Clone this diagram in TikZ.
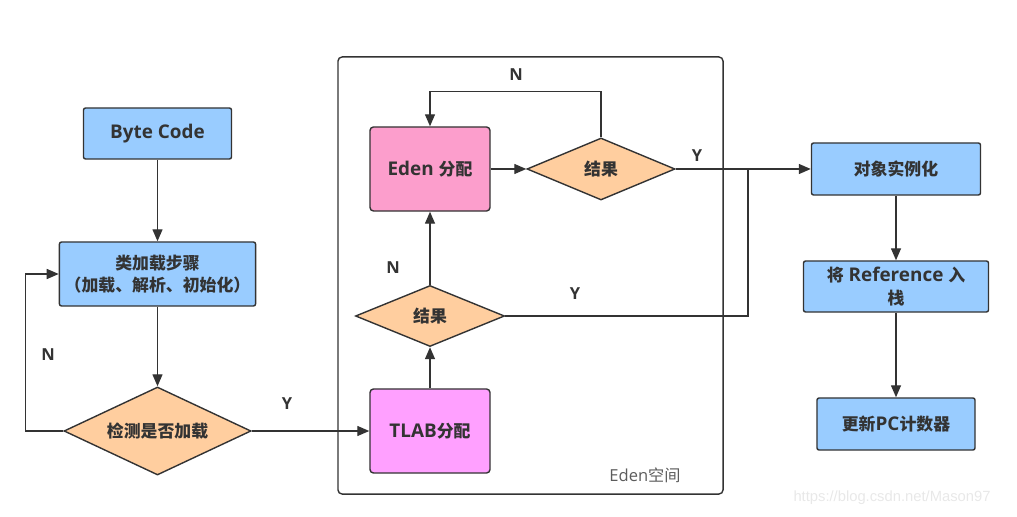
\documentclass[tikz,border=0pt]{standalone}
\usepackage{fontspec}
\setmainfont{Open Sans}[Scale=1.12]
\newfontfamily\cjk{Noto Sans CJK SC}
\newfontfamily\webfont{Liberation Sans}
\usepackage{tikz}
\usetikzlibrary{positioning, shapes, arrows.meta}
\definecolor{boxblue}{RGB}{153,204,255}
\definecolor{edenpink}{RGB}{252,158,204}
\definecolor{tlabpink}{RGB}{255,160,255}
\definecolor{dmorange}{RGB}{255,206,159}
\definecolor{ink}{RGB}{51,51,51}

\begin{document}
\begin{tikzpicture}
	[x=0.025cm, y=-0.025cm,
	 bx/.style={draw=ink, line width=1pt, rectangle, align=center, rounded corners=1.5pt,
	            fill=boxblue, text=ink, font=\bfseries\fontsize{12}{16}\selectfont},
	 pk/.style={bx, fill=edenpink, rounded corners=2.5pt, minimum width=3cm, minimum height=2.1cm},
	 dm/.style={bx, diamond, aspect=2.5, fill=dmorange, inner sep=0pt, rounded corners=0pt},
	 lbl/.style={text=ink, font=\bfseries\fontsize{10.5}{13}\selectfont},
	 arr/.style={draw=ink, line width=1pt, -{Triangle[length=3mm, width=2.5mm]}}]
	\path[use as bounding box] (0,0) rectangle (1017,517);

	% Eden space
	\node[draw=ink, line width=1pt, rounded corners=3pt,
	      minimum width=9.625cm, minimum height=10.925cm] (box) at (530.5,275.5) {};
	\node[text=ink!80, font=\fontsize{10.5}{13}\selectfont] (edn) at (645,475) {Eden{\cjk\fontsize{11.5}{13}\selectfont 空间}};

	% left column
	\node[bx, minimum width=3.7cm, minimum height=1.275cm] (bc) at (157.5,133.5) {Byte Code};
	\node[bx, minimum width=4.85cm, minimum height=1.6cm] (load) at (157.5,274) {\cjk 类加载步骤\\\cjk（加载、解析、初始化）};
	\node[dm, minimum width=4.675cm, minimum height=2.2cm] (chk) at (157.5,431) {\cjk 检测是否加载};

	% inside Eden
	\node[pk] (eden) at (430,169) {Eden {\cjk 分配}};
	\node[dm, minimum width=3.7cm, minimum height=1.55cm] (res1) at (601,169) {\cjk 结果};
	\node[dm, minimum width=3.725cm, minimum height=1.525cm] (res2) at (430,316) {\cjk 结果};
	\node[pk, fill=tlabpink] (tlab) at (430,431) {TLAB{\cjk 分配}};

	% right column
	\node[bx, minimum width=4.225cm, minimum height=1.3cm] (inst) at (896,169) {\cjk 对象实例化};
	\node[bx, minimum width=4.625cm, minimum height=1.275cm] (ref) at (896,286.5) {{\cjk 将} Reference {\cjk 入}\\\cjk 栈};
	\node[bx, minimum width=3.95cm, minimum height=1.3cm] (pc) at (896,424) {{\cjk 更新}PC{\cjk 计数器}};

	\coordinate (jn) at (748,169);

	\draw[arr] (bc) -- (load);
	\draw[arr] (load) -- (chk);
	\draw[arr] (chk.west) -- ++(-38,0) |- (load.west);
	\draw[arr] (chk.east) -- (tlab.west);
	\draw[arr] (tlab) -- (res2);
	\draw[arr] (res2) -- (eden);
	\draw[arr] (eden) -- (res1);
	\draw[arr] (res1.north) -- ++(0,-46) -| (eden.north);
	\draw[arr] (res1) -- (inst);
	\draw[arr, -] (res2.east) -| (jn);
	\draw[arr] (inst) -- (ref);
	\draw[arr] (ref) -- (pc);

	% labels
	\node[lbl] (n1) at (48,355) {N};
	\node[lbl] (y1) at (287,404) {Y};
	\node[lbl] (n2) at (393,268) {N};
	\node[lbl] (y2) at (575,294) {Y};
	\node[lbl] (n3) at (516,75) {N};
	\node[lbl] (y3) at (697,156) {Y};

	\node[text=black!9, font=\webfont\fontsize{10.5}{12}\selectfont] (url) at (892,498) {https://blog.csdn.net/Mason97};
\end{tikzpicture}
\end{document}
